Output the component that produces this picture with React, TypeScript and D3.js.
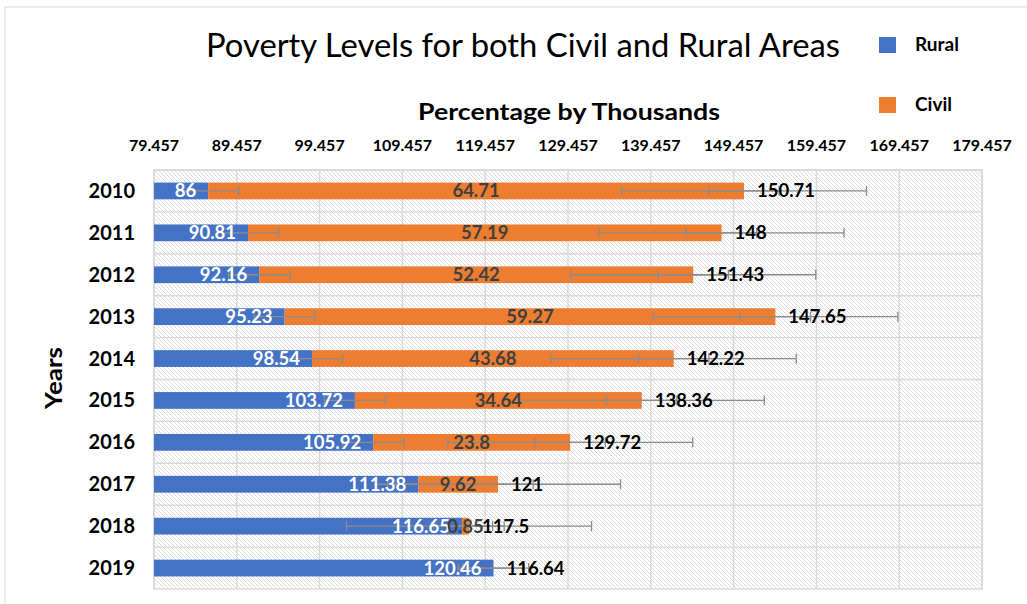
import * as d3 from "d3"

const years = ["2010", "2011", "2012", "2013", "2014", "2015", "2016", "2017", "2018", "2019"]
const rural = [86, 90.81, 92.16, 95.23, 98.54, 103.72, 105.92, 111.38, 116.65, 120.46]
const civil: (number | null)[] = [64.71, 57.19, 52.42, 59.27, 43.68, 34.64, 23.8, 9.62, 0.85, null]
const totals = [150.71, 148, 151.43, 147.65, 142.22, 138.36, 129.72, 121, 117.5, 116.64]
const ticks = [79.457, 89.457, 99.457, 109.457, 119.457, 129.457, 139.457, 149.457, 159.457, 169.457, 179.457]

// error amounts (in axis units)
const ruralErr = 3.7
const civilErr = 14.8
const totalErr = 4.25

const W = 1027
const H = 604
const FONT = "Lato, 'Open Sans', sans-serif"
const RURAL = "#4472C4"
const CIVIL = "#ED7D31"
const GRID = "#d9d9d9"
const ERR = "#8c8c8c"

export default function App() {
  const x = d3.scaleLinear().domain([79.457, 179.457]).range([154, 982])
  const y = d3.scaleBand().domain(years).range([170, 589]).paddingInner(0.6).paddingOuter(0.3)
  const x0 = x.domain()[0]
  const bw = y.bandwidth()
  const step = y.step()

  const errBar = (cy: number, lo: number, hi: number, key: string) => (
    <g key={key} stroke={ERR} strokeWidth={1.3}>
      <line x1={x(lo)} x2={x(hi)} y1={cy} y2={cy} />
      <line x1={x(lo)} x2={x(lo)} y1={cy - 5} y2={cy + 5} />
      <line x1={x(hi)} x2={x(hi)} y1={cy - 5} y2={cy + 5} />
    </g>
  )

  return (
    <svg width={W} height={H} style={{ position: "absolute", left: 0, top: 0, background: "#fff" }} fontFamily={FONT}>
      <defs>
        <pattern id="hatch" patternUnits="userSpaceOnUse" width={4} height={4}>
          <rect width={4} height={4} fill="#fff" />
          <path d="M-1,-1 L5,5 M3,-1 L5,1 M-1,3 L1,5" stroke="#dcdcdc" strokeWidth={1} />
        </pattern>
      </defs>

      {/* outer chart border */}
      <rect x={5} y={7} width={W + 10} height={H + 10} fill="none" stroke={GRID} />

      {/* plot area */}
      <rect x={x(x0)} y={170} width={x(179.457) - x(x0)} height={419} fill="url(#hatch)" />
      {ticks.map((t) => (
        <line key={"g" + t} x1={x(t)} x2={x(t)} y1={170} y2={589} stroke={GRID} strokeWidth={1.4} />
      ))}
      {years.map((yr, i) => (
        <line key={"h" + yr} x1={x(x0)} x2={x(179.457)} y1={170 + i * step} y2={170 + i * step} stroke={GRID} strokeWidth={1.4} />
      ))}
      <rect x={x(x0)} y={170} width={x(179.457) - x(x0)} height={419} fill="none" stroke={GRID} strokeWidth={1.4} />

      {/* bars */}
      {years.map((yr, i) => {
        const top = y(yr)!
        const c = civil[i] ?? 0
        return (
          <g key={"b" + yr}>
            <rect x={x(x0)} y={top} width={x(rural[i]) - x(x0)} height={bw} fill={RURAL} />
            {civil[i] != null && (
              <rect x={x(rural[i])} y={top} width={x(rural[i] + c) - x(rural[i])} height={bw} fill={CIVIL} />
            )}
          </g>
        )
      })}

      {/* error bars */}
      {years.map((yr, i) => {
        const cy = y(yr)! + bw / 2
        const end = rural[i] + (civil[i] ?? 0)
        return (
          <g key={"e" + yr}>
            {errBar(cy, rural[i] - ruralErr, rural[i] + ruralErr, "r")}
            {civil[i] != null && errBar(cy, end - civilErr, end + civilErr, "c")}
            {errBar(cy, end - totalErr, end + totalErr, "t")}
          </g>
        )
      })}

      {/* data labels */}
      {years.map((yr, i) => {
        const cy = y(yr)! + bw / 2 + 6.5
        const end = rural[i] + (civil[i] ?? 0)
        return (
          <g key={"l" + yr} fontSize={18.5} fontWeight="bold">
            <text x={x(rural[i]) - 12} y={cy} textAnchor="end" fill="#fff">
              {rural[i]}
            </text>
            {civil[i] != null && (
              <text x={(x(rural[i]) + x(end)) / 2} y={cy} textAnchor="middle" fill="#404040">
                {civil[i]}
              </text>
            )}
            <text x={x(end) + 13} y={cy} textAnchor="start" fill="#000">
              {totals[i]}
            </text>
          </g>
        )
      })}

      {/* x tick labels */}
      {ticks.map((t) => (
        <text key={"t" + t} x={x(t)} y={151} textAnchor="middle" fontSize={16} fontWeight="bold" fill="#000">
          {t}
        </text>
      ))}

      {/* y labels */}
      {years.map((yr) => (
        <text key={"y" + yr} x={135} y={y(yr)! + bw / 2 + 7} textAnchor="end" fontSize={20} fontWeight="bold" fill="#000">
          {yr}
        </text>
      ))}

      {/* titles */}
      <text x={523} y={57} textAnchor="middle" fontSize={32} fill="#000" textLength={634} lengthAdjust="spacingAndGlyphs">
        Poverty Levels for both Civil and Rural Areas
      </text>
      <text x={569} y={120} textAnchor="middle" fontSize={23} fontWeight="bold" fill="#000" textLength={302} lengthAdjust="spacingAndGlyphs">
        Percentage by Thousands
      </text>
      <text transform="translate(62,378) rotate(-90)" textAnchor="middle" fontSize={23} fontWeight="bold" fill="#000" textLength={62} lengthAdjust="spacingAndGlyphs">
        Years
      </text>

      {/* legend */}
      <rect x={879} y={37} width={17} height={16} fill={RURAL} />
      <text x={915} y={51} fontSize={19} fontWeight="bold" fill="#000">Rural</text>
      <rect x={879} y={97} width={17} height={16} fill={CIVIL} />
      <text x={915} y={111} fontSize={19} fontWeight="bold" fill="#000">Civil</text>
    </svg>
  )
}
